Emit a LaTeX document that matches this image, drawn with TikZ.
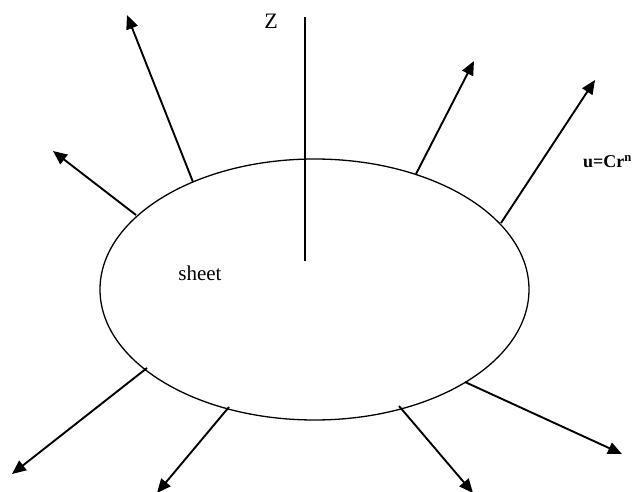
\documentclass[tikz,border=0pt]{standalone}
\usepackage{fontspec}
\setmainfont{Liberation Serif}
\usetikzlibrary{arrows.meta}

\begin{document}
\begin{tikzpicture}[x=1pt,y=-1pt]
    % Define picture frame
    \useasboundingbox (0,0) rectangle (638,492);

    \tikzset{flow/.style={line width=1.9pt,-{Triangle[length=14pt,width=12pt]}}}

    % Draw the sheet
    \coordinate (O) at (314.5,289.5);
    \draw[line width=1.3pt] (O) ellipse [x radius=214.5, y radius=130.5];
    \node[font=\fontsize{21}{24}\selectfont] (sheet) at (200,273) {sheet};

    % Draw the z axis
    \coordinate (Zbot) at (305,261);
    \coordinate (Ztop) at (305,17);
    \draw[line width=1.2pt] (Zbot) -- (Ztop);
    \node[font=\fontsize{22}{24}\selectfont] (zlabel) at (271,21) {Z};

    % Define the points on the sheet
    \coordinate (P1) at (193,182);
    \coordinate (P2) at (136,215);
    \coordinate (P3) at (416,174);
    \coordinate (P4) at (501,223);
    \coordinate (P5) at (147,368);
    \coordinate (P6) at (229,407);
    \coordinate (P7) at (399,406);
    \coordinate (P8) at (465,382);

    % Define the arrow tips
    \coordinate (Q1) at (127,15);
    \coordinate (Q2) at (53,151);
    \coordinate (Q3) at (474,61);
    \coordinate (Q4) at (595,80);
    \coordinate (Q5) at (12,474);
    \coordinate (Q6) at (157,493);
    \coordinate (Q7) at (473,493);
    \coordinate (Q8) at (622,454);

    % Draw the stretching arrows
    \foreach \i in {1,...,8}
        \draw[flow] (P\i) -- (Q\i);

    % Label the velocity
    \node[font=\bfseries\fontsize{18}{20}\selectfont, anchor=base west, inner sep=0pt] (vel) at (583,168) {u=Cr\textsuperscript{n}};

\end{tikzpicture}
\end{document}
